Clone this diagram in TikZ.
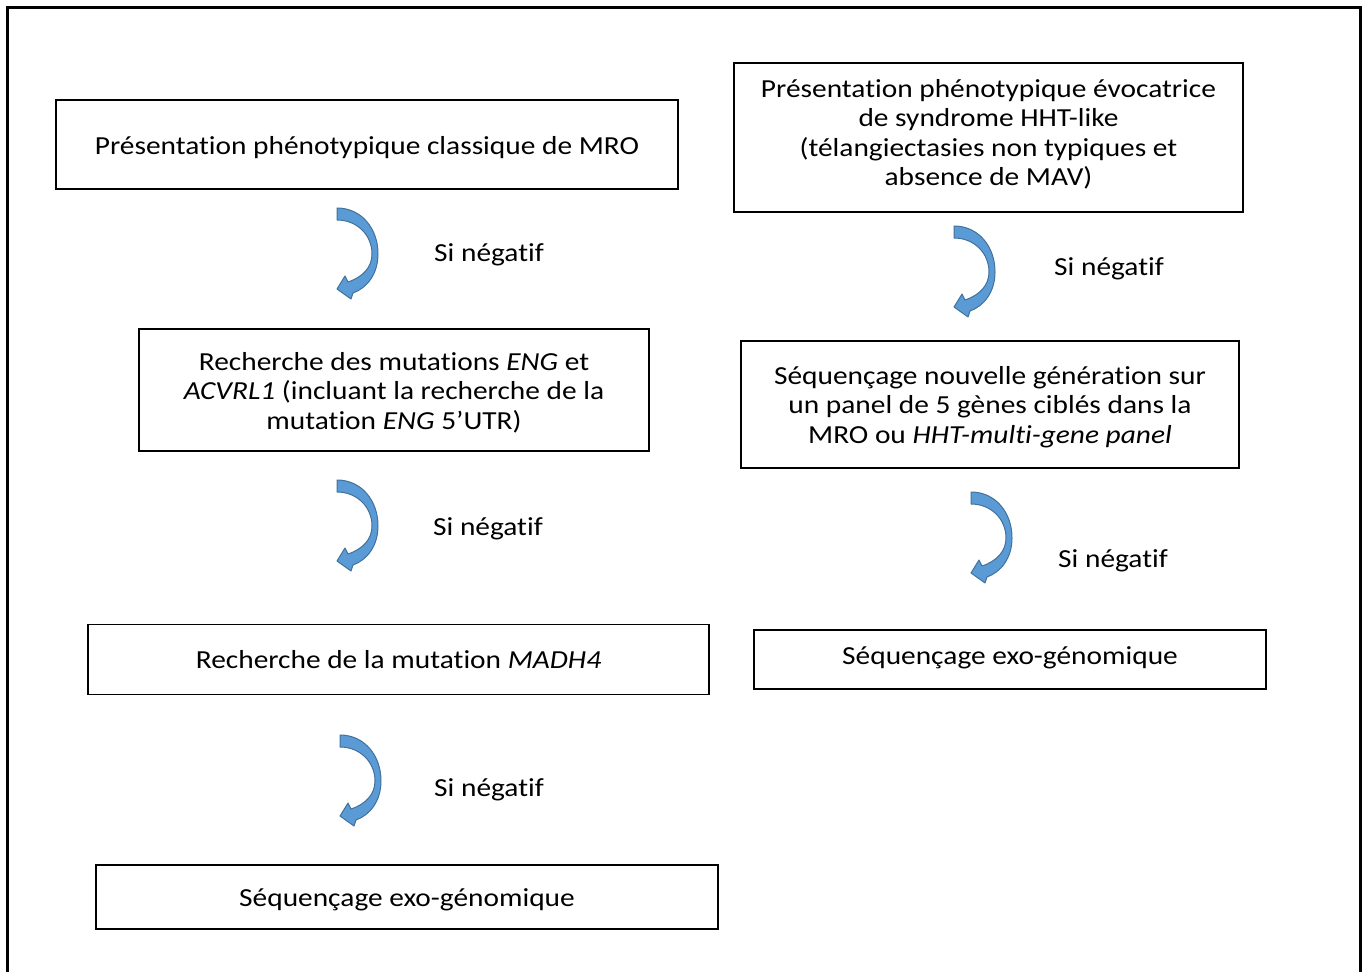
\documentclass[tikz,border=0pt]{standalone}
\usepackage{fontspec}
\setmainfont{Carlito}[Ligatures=NoCommon,FakeStretch=1.13]
\begin{document}
\begin{tikzpicture}[x=0.5pt,y=-0.5pt,
  box/.style={draw=black,line width=0.9pt,inner sep=0pt},
  txt/.style={inner sep=0pt,align=center,font=\fontsize{13}{14.75}\selectfont},
  lbl/.style={font=\fontsize{13}{14.75}\selectfont,inner sep=0pt},
  arrowstyle/.style={fill=arrowfill,draw=arrowline,line width=0.5pt,line join=round},
  curvarrow/.pic={\path[arrowstyle] (0,0) .. controls (24,0) and (41,20) .. (41,46)
     .. controls (41,66) and (30,80) .. (16,85) -- (14,91) -- (0,81) -- (8,68) -- (11,74)
     .. controls (26,69) and (35,59) .. (35,46) .. controls (35,27) and (20,12) .. (0,12) -- cycle;}
]
\definecolor{arrowfill}{HTML}{5B9BD5}
\definecolor{arrowline}{HTML}{41719C}
\useasboundingbox (0,0) rectangle (1368,972);
\draw[line width=1.5pt] (7.5,975) -- (7.5,7.5) -- (1360.5,7.5) -- (1360.5,975);

% left column boxes
\node[box,minimum width=311pt,minimum height=44.5pt] (l1) at (367,144.5) {};
\node[box,minimum width=255pt,minimum height=61pt] (l2) at (394,390) {};
\node[box,minimum width=310.5pt,minimum height=35pt] (l3) at (398.5,659.5) {};
\node[box,minimum width=311pt,minimum height=32pt] (l4) at (407,897) {};
% right column boxes
\node[box,minimum width=254.5pt,minimum height=74.5pt] (r1) at (988.5,137.5) {};
\node[box,minimum width=249pt,minimum height=63.5pt] (r2) at (990,404.5) {};
\node[box,minimum width=256pt,minimum height=29.5pt] (r3) at (1010,659.5) {};

% box texts
\node[txt] (l1t) at (367,147.5) {Présentation phénotypique classique de MRO};
\node[txt] (l2t) at (394,392.5) {Recherche des mutations \textit{ENG} et\\ \textit{ACVRL1} (incluant la recherche de la\\ mutation \textit{ENG} 5’UTR)};
\node[txt] (l3t) at (398.5,659.5) {Recherche de la mutation \textit{MADH4}};
\node[txt] (l4t) at (407,900) {Séquençage exo-génomique};
\node[txt] (r1t) at (988.5,134.5) {Présentation phénotypique évocatrice\\ de syndrome HHT-like\\ (télangiectasies non typiques et\\ absence de MAV)};
\node[txt] (r2t) at (990,407) {Séquençage nouvelle génération sur\\ un panel de 5 gènes ciblés dans la\\ MRO ou \textit{HHT-multi-gene panel}};
\node[txt] (r3t) at (1010,657.5) {Séquençage exo-génomique};

% curved arrows
\pic at (337,208) {curvarrow};
\pic at (337,480) {curvarrow};
\pic at (340,735) {curvarrow};
\pic at (954,226) {curvarrow};
\pic at (971,492) {curvarrow};

% labels
\node[lbl] (s1) at (489,255) {Si négatif};
\node[lbl] (s2) at (488,529) {Si négatif};
\node[lbl] (s3) at (489,790) {Si négatif};
\node[lbl] (s4) at (1109,269) {Si négatif};
\node[lbl] (s5) at (1113,561) {Si négatif};
\end{tikzpicture}
\end{document}
